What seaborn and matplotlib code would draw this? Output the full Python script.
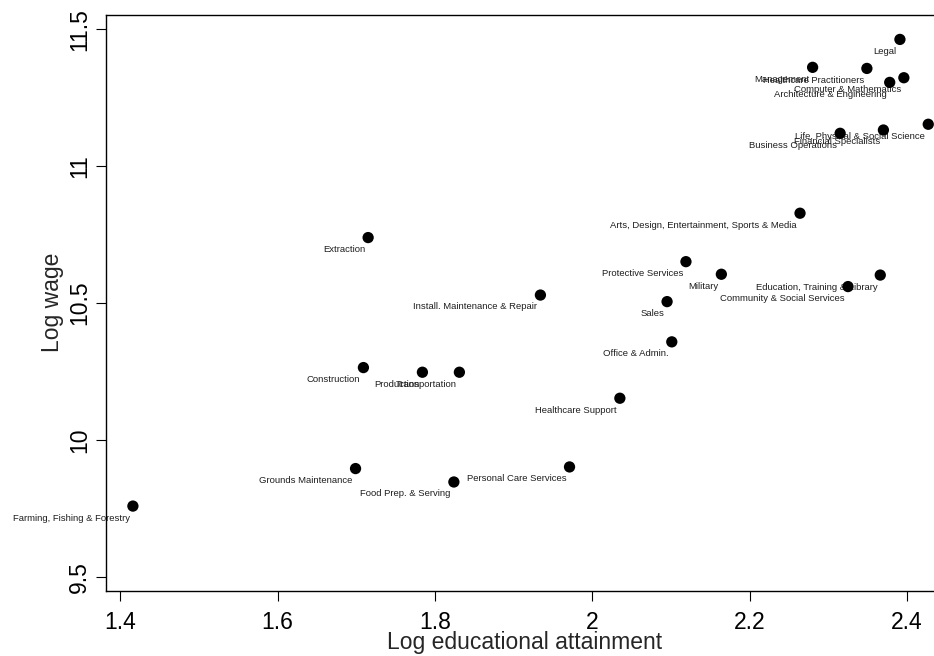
import matplotlib
matplotlib.use("Agg")
import matplotlib.pyplot as plt
import seaborn as sns
import pandas as pd

# Occupation groups with log educational attainment and log wage
occupations = [
    "Legal", "Management", "Healthcare Practitioners", "Computer & Mathematics",
    "Architecture & Engineering", "Life, Physical & Social Science",
    "Financial Specialists", "Business Operations",
    "Arts, Design, Entertainment, Sports & Media", "Protective Services",
    "Military", "Education, Training & Library", "Community & Social Services",
    "Sales", "Install. Maintenance & Repair", "Office & Admin.", "Extraction",
    "Construction", "Production", "Transportation", "Healthcare Support",
    "Grounds Maintenance", "Food Prep. & Serving", "Personal Care Services",
    "Farming, Fishing & Forestry",
]
log_educ = [
    2.391, 2.280, 2.349, 2.396, 2.378, 2.427, 2.370, 2.315,
    2.264, 2.119, 2.164, 2.366, 2.325, 2.095, 1.934, 2.101,
    1.715, 1.709, 1.784, 1.831, 2.035, 1.699, 1.824, 1.971, 1.416,
]
log_wage = [
    11.463, 11.361, 11.357, 11.323, 11.306, 11.153, 11.132, 11.120,
    10.828, 10.651, 10.605, 10.602, 10.560, 10.505, 10.529, 10.358,
    10.739, 10.264, 10.247, 10.247, 10.152, 9.895, 9.846, 9.901, 9.758,
]

x_ticks = [1.4, 1.6, 1.8, 2.0, 2.2, 2.4]
x_tick_labels = ["1.4", "1.6", "1.8", "2", "2.2", "2.4"]
y_ticks = [9.5, 10.0, 10.5, 11.0, 11.5]
y_tick_labels = ["9.5", "10", "10.5", "11", "11.5"]

df = pd.DataFrame({"occupation": occupations, "educ": log_educ, "wage": log_wage})

sns.set_theme(style="white")
plt.rcParams["font.family"] = ["Liberation Sans", "DejaVu Sans"]

fig = plt.figure(figsize=(9.34, 6.56), dpi=100)
ax = fig.add_axes([0.11349, 0.09954, 0.8972, 0.87805])

sns.scatterplot(data=df, x="educ", y="wage", ax=ax, color="black",
                s=66, edgecolor="none", linewidth=0, zorder=3)

for name, xv, yv in zip(occupations, log_educ, log_wage):
    ax.annotate(name, (xv, yv), xytext=(-2.2, -10.4), textcoords="offset points",
                ha="right", va="baseline", fontsize=6.8, color="#1e1e1e",
                zorder=2, annotation_clip=False)

ax.set_xlim(1.3818, 2.4470)
ax.set_ylim(9.4488, 11.5533)

ax.set_xticks(x_ticks)
ax.set_xticklabels(x_tick_labels, fontsize=16.5)
ax.set_yticks(y_ticks)
ax.set_yticklabels(y_tick_labels, fontsize=16.5, rotation=90, va="center", ha="right")

ax.tick_params(axis="both", which="major", direction="out", length=7.2, width=0.8,
               color="black", labelcolor="black", bottom=True, left=True,
               top=False, right=False)
ax.tick_params(axis="x", pad=7.5)
ax.tick_params(axis="y", pad=3.7)

for side in ["left", "bottom", "top", "right"]:
    ax.spines[side].set_color("black")
    ax.spines[side].set_linewidth(1.0)

ax.set_xlabel("Log educational attainment", fontsize=16.5, labelpad=-2)
ax.set_ylabel("Log wage", fontsize=16.5, labelpad=2.5)
ax.grid(False)

fig.savefig("out.png", dpi=100, facecolor="white")
